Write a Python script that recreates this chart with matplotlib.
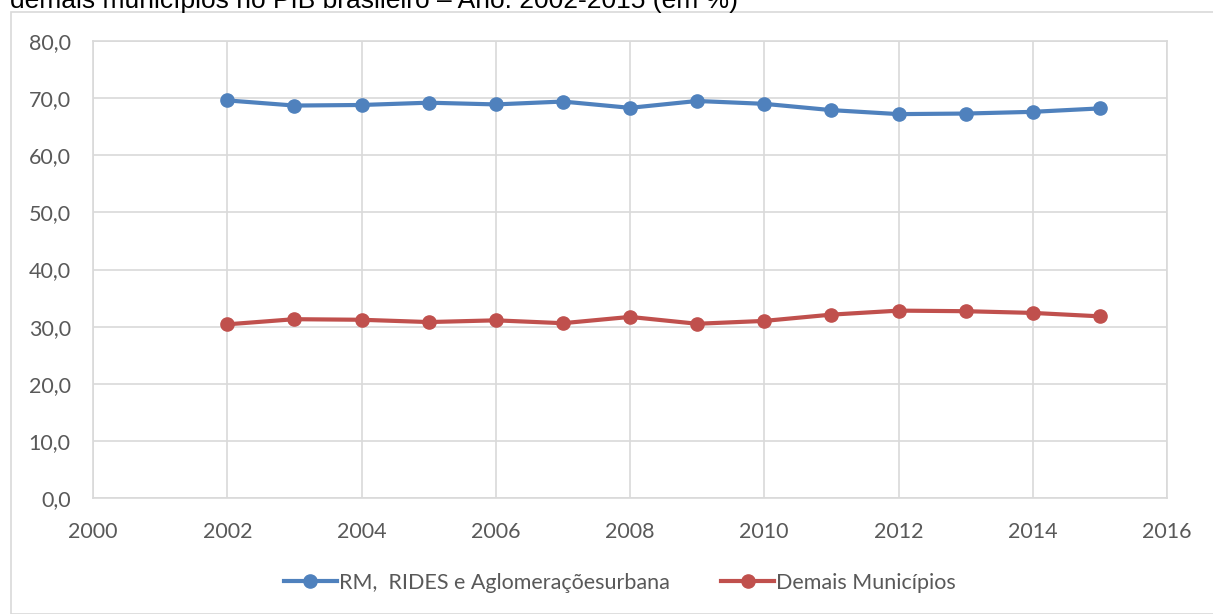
import numpy as np
import matplotlib
matplotlib.use('Agg')
import matplotlib.pyplot as plt
from matplotlib.patches import Rectangle

anos = [2002, 2003, 2004, 2005, 2006, 2007, 2008, 2009, 2010, 2011, 2012, 2013, 2014, 2015]
rm_rides = [69.6, 68.7, 68.8, 69.2, 68.9, 69.4, 68.3, 69.5, 69.0, 67.9, 67.2, 67.3, 67.6, 68.2]
demais = [30.4, 31.3, 31.2, 30.8, 31.1, 30.6, 31.7, 30.5, 31.0, 32.1, 32.8, 32.7, 32.4, 31.8]
nomes = ['RM,  RIDES e Aglomeraçõesurbana', 'Demais Municípios']
titulo = 'demais municípios no PIB brasileiro – Ano: 2002-2015 (em %)'

W, H = 1213, 614
fig = plt.figure(figsize=(W / 100, H / 100), dpi=100)
plt.rcParams['font.family'] = ['Lato', 'DejaVu Sans']

# moldura do grafico
fig.patches.append(Rectangle((11 / W, 0), 1.2, 1 - 12 / H, transform=fig.transFigure,
                             fill=False, edgecolor='#D9D9D9', linewidth=1.2))

fig.text(10 / W, 1 - 8 / H, titulo, fontsize=19, color='black', va='baseline', ha='left',
         family=['Liberation Sans', 'DejaVu Sans'])

ax = fig.add_axes([93 / W, 1 - 498 / H, (1167 - 93) / W, (498 - 41) / H])
ax.plot(anos, rm_rides, color='#4F81BD', lw=3, marker='o', ms=9.5, label=nomes[0], zorder=3)
ax.plot(anos, demais, color='#C0504D', lw=3, marker='o', ms=9.5, label=nomes[1], zorder=3)

ax.set_xlim(2000, 2016)
ax.set_ylim(0, 80)
ax.set_xticks(np.arange(2000, 2017, 2))
ax.set_yticks(np.arange(0, 81, 10))
ax.set_yticklabels(['{:.1f}'.format(v).replace('.', ',') for v in np.arange(0, 81, 10)])
ax.grid(True, color='#D9D9D9', lw=1.2)
ax.set_axisbelow(True)
for s in ax.spines.values():
    s.set_color('#D9D9D9')
    s.set_linewidth(1.2)
ax.tick_params(length=0, labelsize=15.5, labelcolor='#595959')
ax.tick_params(axis='y', pad=16)
ax.tick_params(axis='x', pad=17)

ax.legend(loc='center', bbox_to_anchor=(620 / W, 1 - 583 / H), bbox_transform=fig.transFigure,
          ncol=2, frameon=False, fontsize=15.5, handlelength=2.45, columnspacing=2.4,
          handletextpad=0.1, labelcolor='#595959')

fig.savefig('out.png', dpi=100)
